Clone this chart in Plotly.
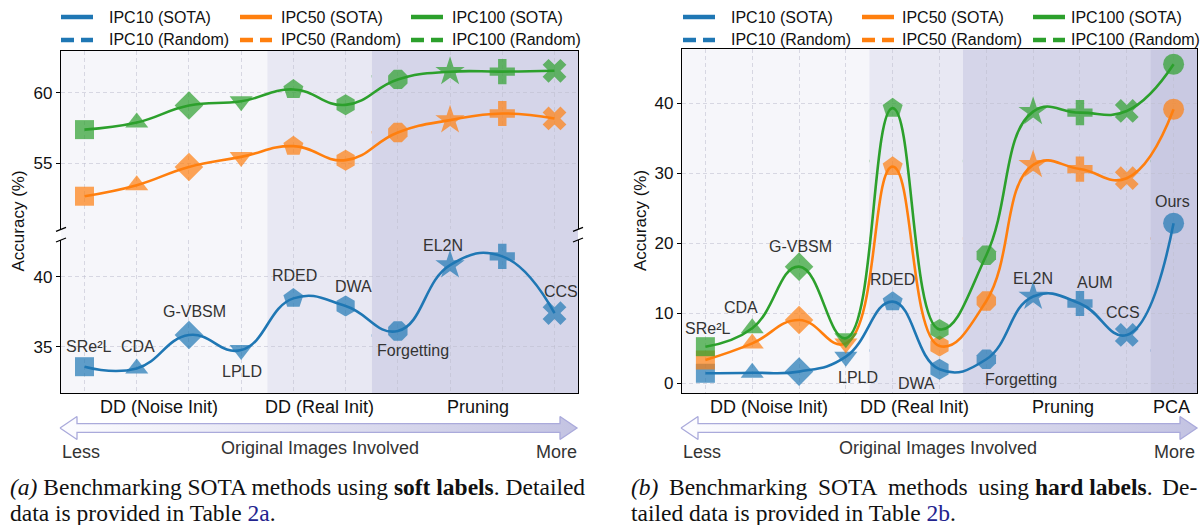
import plotly.graph_objects as go

# ---------------- data ----------------
methods = ["SRe²L", "CDA", "G-VBSM", "LPLD", "RDED", "DWA", "Forgetting", "EL2N", "AUM", "CCS", "Ours"]
marker_symbols = ["square", "triangle-up", "diamond", "triangle-down", "pentagon",
                  "hexagon", "octagon", "star", "cross", "x", "circle"]

# (a) soft labels (10 methods)
soft_ipc10 = [33.57, 33.45, 35.83, 34.76, 38.45, 37.90, 36.12, 40.83, 41.45, 37.40]
soft_ipc50 = [52.69, 53.47, 54.76, 55.47, 56.23, 55.24, 57.20, 58.07, 58.54, 58.19]
soft_ipc100 = [57.40, 57.90, 59.10, 59.40, 60.24, 59.15, 60.95, 61.49, 61.50, 61.56]
soft_random = [35.80, 57.22, 61.18]          # IPC10, IPC50, IPC100

# (b) hard labels (11 methods incl. Ours / PCA)
hard_ipc10 = [1.43, 1.50, 1.67, 3.80, 11.66, 2.00, 3.43, 12.40, 11.40, 6.90, 22.86]
hard_ipc50 = [3.33, 5.70, 9.05, 5.70, 30.95, 5.33, 11.76, 31.20, 30.60, 29.30, 39.14]
hard_ipc100 = [5.23, 7.86, 16.66, 6.43, 39.30, 7.70, 18.30, 38.80, 38.66, 38.90, 45.57]
hard_random = [4.67, 20.70, 31.76]

groups_a = ["DD (Noise Init)", "DD (Real Init)", "Pruning"]
groups_b = ["DD (Noise Init)", "DD (Real Init)", "Pruning", "PCA"]
legend_labels = [["IPC10 (SOTA)", "IPC50 (SOTA)", "IPC100 (SOTA)"],
                 ["IPC10 (Random)", "IPC50 (Random)", "IPC100 (Random)"]]

# ---------------- style ----------------
W, H = 1200, 525
BLUE, ORANGE, GREEN = "#1f77b4", "#ff7f0e", "#2ca02c"
COLORS = [BLUE, ORANGE, GREEN]
FONT = "Liberation Sans, Arial, sans-serif"
SERIF = "Liberation Serif, Times New Roman, serif"
BAND_COLORS = ["#f6f6fa", "#e8e8f3", "#d5d5e9", "#c9c9e2"]
GRID = "rgba(190,190,205,0.55)"
marker_sizes = [19, 20, 22, 20, 21, 21, 21, 22, 21, 21, 21]


def px(x):
    return x / W


def py(y):
    return 1 - y / H


# panel geometry (pixels)
A_L, A_R = 61, 578
B_L, B_R = 682, 1197
A_TOP_T, A_TOP_B = 50.7, 229.3
A_BOT_T, A_BOT_B = 240.0, 393.3
B_T, B_B = 49.3, 393.3

na, nb = 10, 11
xr_a = [-0.45, na - 1 + 0.45]
xr_b = [-0.5, nb - 1 + 0.5]

fig = go.Figure()


def add_series(xa, ya, xs, vals, color):
    n = len(vals)
    fig.add_trace(go.Scatter(
        x=xs[:n], y=vals, mode="lines+markers",
        line=dict(color=color, width=2.6, shape="spline", smoothing=1.3),
        marker=dict(symbol=marker_symbols[:n], size=marker_sizes[:n], color=color,
                    line=dict(width=0)),
        xaxis=xa, yaxis=ya, showlegend=False, hoverinfo="skip", cliponaxis=False))


# (a) bottom (IPC10), top (IPC50, IPC100)
add_series("x", "y", methods, soft_ipc10, BLUE)
add_series("x2", "y2", methods, soft_ipc50, ORANGE)
add_series("x2", "y2", methods, soft_ipc100, GREEN)
# (b)
add_series("x3", "y3", methods, hard_ipc10, BLUE)
add_series("x3", "y3", methods, hard_ipc50, ORANGE)
add_series("x3", "y3", methods, hard_ipc100, GREEN)

shapes = []
annotations = []

# random baselines (subplot-level shapes, beneath the traces)
rand_axes_a = [("x", "y"), ("x2", "y2"), ("x2", "y2")]
for (xa, ya), val, c in zip(rand_axes_a, soft_random, COLORS):
    shapes.append(dict(type="line", xref=f"{xa} domain", yref=ya, x0=0, x1=1, y0=val, y1=val,
                       line=dict(color=c, width=2.5, dash="9px,5px"), layer="below"))
for val, c in zip(hard_random, COLORS):
    shapes.append(dict(type="line", xref="x3 domain", yref="y3", x0=0, x1=1, y0=val, y1=val,
                       line=dict(color=c, width=2.5, dash="9px,5px"), layer="below"))


# background bands
def band_shapes(L, R, xr, bounds, top, bot):
    def xp(v):
        return px(L + (v - xr[0]) / (xr[1] - xr[0]) * (R - L))
    for i in range(len(bounds) - 1):
        shapes.append(dict(type="rect", xref="paper", yref="paper",
                           x0=xp(bounds[i]), x1=xp(bounds[i + 1]), y0=py(bot), y1=py(top),
                           fillcolor=BAND_COLORS[i], line=dict(width=0), layer="below"))


band_shapes(A_L, A_R, xr_a, [xr_a[0], 3.5, 5.5, xr_a[1]], A_TOP_T, A_BOT_B)
band_shapes(B_L, B_R, xr_b, [xr_b[0], 3.5, 5.5, 9.5, xr_b[1]], B_T, B_B)

# broken-axis marks
for xx in (A_L, A_R):
    for yy in (A_TOP_B, A_BOT_T):
        shapes.append(dict(type="line", xref="paper", yref="paper",
                           x0=px(xx - 5), x1=px(xx + 5), y0=py(yy + 2), y1=py(yy - 2),
                           line=dict(color="black", width=1.3), layer="above"))

# legends (drawn manually, 3 columns x 2 rows per panel)
leg_cols_a = [(61, 107), (240, 279), (411, 450)]
leg_cols_b = [(683, 729), (862, 900), (1033, 1069)]
for cols in (leg_cols_a, leg_cols_b):
    for j, ((x0, xt), c) in enumerate(zip(cols, COLORS)):
        shapes.append(dict(type="line", xref="paper", yref="paper", x0=px(x0), x1=px(x0 + 32),
                           y0=py(17), y1=py(17), line=dict(color=c, width=4.5), layer="above"))
        for s0, s1 in ((x0, x0 + 13), (x0 + 20, x0 + 32)):
            shapes.append(dict(type="line", xref="paper", yref="paper", x0=px(s0), x1=px(s1),
                               y0=py(40), y1=py(40), line=dict(color=c, width=4.5), layer="above"))
        for r, yy in enumerate((17, 40)):
            annotations.append(dict(text=legend_labels[r][j], xref="paper", yref="paper",
                                    x=px(xt), y=py(yy), xanchor="left", yanchor="middle",
                                    showarrow=False, font=dict(family=FONT, size=16, color="#111")))

# point labels (label placement chosen to match the original)
lab_pos_a = [(0.08, 35.0), (1.02, 35.0), (2.1, 37.5), (3.02, 33.21), (4.02, 40.07),
             (5.15, 39.29), (6.29, 34.71), (6.87, 42.21), (8.04, 42.98), (9.12, 38.93)]
for name, (lx, ly) in zip(methods[:na], lab_pos_a):
    annotations.append(dict(text=name, xref="x", yref="y", x=lx, y=ly, showarrow=False,
                            xanchor="center", yanchor="middle",
                            font=dict(family=FONT, size=16, color="#333")))
lab_pos_b = [(0.05, 7.76), (0.75, 10.8), (2.03, 19.51), (3.25, 0.86), (4.0, 14.76),
             (4.51, -0.1), (6.75, 0.61), (7.0, 14.9), (8.33, 14.43), (8.91, 10.14), (9.98, 25.94)]
for name, (lx, ly) in zip(methods[:nb], lab_pos_b):
    annotations.append(dict(text=name, xref="x3", yref="y3", x=lx, y=ly, showarrow=False,
                            xanchor="center", yanchor="middle",
                            font=dict(family=FONT, size=16, color="#333")))

# group labels
for name, cx in zip(groups_a, [159, 319, 478]):
    annotations.append(dict(text=name, xref="paper", yref="paper", x=px(cx), y=py(406.7),
                            xanchor="center", yanchor="middle",
                            showarrow=False, font=dict(family=FONT, size=18, color="#111")))
for name, cx in zip(groups_b, [769, 914, 1062.5, 1171]):
    annotations.append(dict(text=name, xref="paper", yref="paper", x=px(cx), y=py(406.7),
                            xanchor="center", yanchor="middle",
                            showarrow=False, font=dict(family=FONT, size=18, color="#111")))

# arrow texts
for L, R, cx in ((A_L, A_R, 320), (B_L, B_R, 938)):
    annotations.append(dict(text="Original Images Involved", xref="paper", yref="paper",
                            x=px(cx), y=py(448.3), xanchor="center", yanchor="middle",
                            showarrow=False, font=dict(family=FONT, size=18, color="#333")))
    annotations.append(dict(text="Less", xref="paper", yref="paper", x=px(L - 1), y=py(452),
                            xanchor="left", yanchor="middle", showarrow=False,
                            font=dict(family=FONT, size=18, color="#333")))
    annotations.append(dict(text="More", xref="paper", yref="paper", x=px(min(R + 1, 1197)), y=py(452),
                            xanchor="right", yanchor="middle", showarrow=False,
                            font=dict(family=FONT, size=18, color="#333")))

# axis titles
for xx in (17.5, 640):
    annotations.append(dict(text="Accuracy (%)", xref="paper", yref="paper", x=px(xx), y=py(221),
                            xanchor="center", yanchor="middle",
                            textangle=-90, showarrow=False,
                            font=dict(family=FONT, size=17, color="#111")))

# captions (line 1 of (b) is justified in the original)
cap = [
    (8, 487, "left", "<i>(a)</i> Benchmarking SOTA methods using <b>soft labels</b>. Detailed"),
    (8, 513, "left", "data is provided in Table <span style='color:#23238e'>2a</span>."),
    (629, 487, "left", "<i>(b)</i>\u2009 Benchmarking\u2009 SOTA\u2009 methods\u2009 using <b>hard labels</b>."),
    (1199, 487, "right", "De-"),
    (629, 513, "left", "tailed data is provided in Table <span style='color:#23238e'>2b</span>."),
]
for xx, yy, anc, t in cap:
    annotations.append(dict(text=t, xref="paper", yref="paper", x=px(xx), y=py(yy),
                            xanchor=anc, yanchor="middle", showarrow=False,
                            font=dict(family=SERIF, size=23.5, color="#111")))


# gradient double arrows (decoration, drawn on a pixel overlay axis)
def arrow(L, R, cy=428, hl=17, hh=11.5, sh=4.3):
    xs = [L, L + hl, L + hl, R - hl, R - hl, R, R - hl, R - hl, L + hl, L + hl, L]
    ys = [cy, cy - hh, cy - sh, cy - sh, cy - hh, cy, cy + hh, cy + sh, cy + sh, cy + hh, cy]
    fig.add_trace(go.Scatter(
        x=xs, y=ys, mode="lines", fill="toself",
        fillgradient=dict(type="horizontal", colorscale=[[0, "#fdfdff"], [1, "#c3c3e2"]]),
        line=dict(color="#aaaadb", width=1.3), xaxis="x4", yaxis="y4",
        showlegend=False, hoverinfo="skip"))


arrow(60, 577)
arrow(681, 1197)

axis_common = dict(showline=True, linecolor="black", linewidth=1.3, zeroline=False,
                   showgrid=True, gridcolor=GRID, griddash="4px,3px", gridwidth=1)
xcat = dict(type="category", categoryorder="array", categoryarray=methods,
            showticklabels=False, ticks="")
ytk = dict(ticks="outside", ticklen=4, tickwidth=1.2, tickcolor="black",
           tickfont=dict(family=FONT, size=17, color="#111"), mirror=True)

fig.update_layout(
    width=W, height=H, margin=dict(l=0, r=0, t=0, b=0),
    paper_bgcolor="white", plot_bgcolor="rgba(0,0,0,0)",
    showlegend=False, shapes=shapes, annotations=annotations,
    xaxis=dict(domain=[px(A_L), px(A_R)], range=xr_a, anchor="y", mirror=False, **xcat, **axis_common),
    yaxis=dict(domain=[py(A_BOT_B), py(A_BOT_T)], range=[31.67, 42.62], anchor="x",
               tickvals=[35, 40], **ytk, **axis_common),
    xaxis2=dict(domain=[px(A_L), px(A_R)], range=xr_a, anchor="y2", side="top", mirror=False,
                **xcat, **axis_common),
    yaxis2=dict(domain=[py(A_TOP_B), py(A_TOP_T)], range=[50.35, 62.98], anchor="x2",
                tickvals=[55, 60], **ytk, **axis_common),
    xaxis3=dict(domain=[px(B_L), px(B_R)], range=xr_b, anchor="y3", mirror=True,
                **xcat, **axis_common),
    yaxis3=dict(domain=[py(B_B), py(B_T)], range=[-1.43, 47.71], anchor="x3",
                tickvals=[0, 10, 20, 30, 40], **ytk, **axis_common),
    xaxis4=dict(domain=[0, 1], range=[0, W], anchor="y4", visible=False, fixedrange=True),
    yaxis4=dict(domain=[0, 1], range=[H, 0], anchor="x4", visible=False, fixedrange=True),
)

# remove the default page margin so the 1200x525 figure fills the window exactly
fig.write_html("out.html", config={"displayModeBar": False},
               post_script="document.body.style.margin='0';document.body.style.overflow='hidden';")
